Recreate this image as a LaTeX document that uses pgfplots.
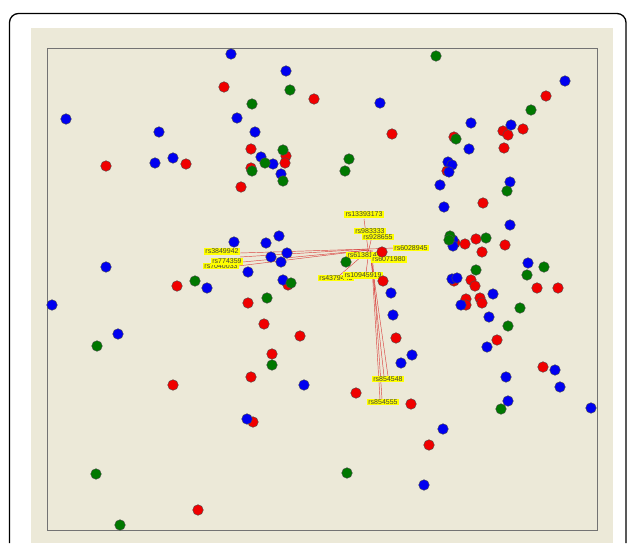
\documentclass[border=0pt]{standalone}
\usepackage{pgfplots}
\pgfplotsset{compat=1.18}
\usepackage{fontspec}
\newfontfamily\labfont{Liberation Sans}
\definecolor{panel}{RGB}{236,233,216}
\definecolor{ptgreen}{RGB}{0,120,0}
\definecolor{ptblue}{RGB}{0,0,240}
\definecolor{ptred}{RGB}{240,0,0}
\definecolor{lnk}{RGB}{215,40,40}
\definecolor{tag}{RGB}{255,255,0}
\tikzset{
  tg/.style={fill=tag, inner xsep=1.2pt, inner ysep=0.9pt,
    font=\labfont\fontsize{7}{7}\selectfont, text=black!75},
  lk/.style={lnk, line width=0.45pt, opacity=0.85}}
\begin{document}
\begin{tikzpicture}
\begin{axis}[scale only axis, width=627pt, height=543pt,
  xmin=0, xmax=627, ymin=0, ymax=543, y dir=reverse,
  hide axis, clip=false,
  pts/.style={only marks, mark=*, mark size=5.3pt,
    mark options={fill=#1, draw=black!70, line width=0.4pt}}]
% background, panel and frames
\fill[white] (axis cs:0,0) rectangle (axis cs:627,543);
\fill[panel] (axis cs:31,28) rectangle (axis cs:613,543);
\draw[black, line width=1.3pt, rounded corners=9pt]
  (axis cs:9.5,543) -- (axis cs:9.5,13.5) -- (axis cs:626,13.5) -- (axis cs:626,543);
\draw[black!55, line width=1pt] (axis cs:47,48.5) rectangle (axis cs:597,530.5);

% points
\addplot[pts=ptred] coordinates {
 (224,87) (186,164) (106,166) (314,99) (392,134) (251,149) (286,156) (285,163)
 (251,168) (241,187) (546,96) (503,131) (508,135) (523,129) (454,137) (504,148)
 (447,171) (483,203) (455,243) (465,244) (476,239) (482,252) (505,245) (454,281)
 (471,280) (475,286) (537,288) (558,288) (466,299) (466,305) (480,298) (482,303)
 (497,340) (543,367) (177,286) (251,377) (173,385) (356,393) (411,404) (253,422)
 (429,445) (198,510) (382,252) (383,281) (288,285) (248,303) (264,324) (300,336)
 (272,354) (396,338)
};
\addplot[pts=ptblue] coordinates {
 (231,54) (66,119) (237,118) (159,132) (155,163) (173,158) (286,71) (380,103)
 (255,132) (261,157) (273,164) (281,174) (565,81) (471,123) (511,125) (469,149)
 (448,162) (452,165) (449,172) (440,185) (510,182) (444,207) (510,225) (453,240)
 (453,246) (528,263) (452,279) (457,278) (493,294) (461,305) (489,317) (487,347)
 (555,370) (234,242) (106,267) (52,305) (207,288) (118,334) (401,363) (304,385)
 (247,419) (443,429) (424,485) (506,377) (560,387) (508,401) (591,408) (266,243)
 (279,236) (271,257) (287,253) (281,262) (248,272) (283,280) (391,293) (393,315)
 (412,355)
};
\addplot[pts=ptgreen] coordinates {
 (436,56) (290,90) (252,104) (283,150) (265,163) (252,171) (283,181) (349,159)
 (345,171) (531,110) (456,139) (507,191) (450,236) (449,240) (486,238) (544,267)
 (476,270) (527,275) (520,308) (508,326) (195,281) (97,346) (272,365) (96,474)
 (347,473) (120,525) (346,262) (291,283) (267,298) (501,409)
};

% links from the hub to the labels
\addplot[lk] coordinates {(364,219) (368,249)};
\addplot[lk] coordinates {(369,249) (240,253)};
\addplot[lk] coordinates {(369,249) (240,257)};
\addplot[lk] coordinates {(369,250) (243,262)};
\addplot[lk] coordinates {(369,250) (238,266)};
\addplot[lk] coordinates {(369,249) (394,248)};
\addplot[lk] coordinates {(369,249) (372,236)};
\addplot[lk] coordinates {(369,250) (340,275)};
\addplot[lk] coordinates {(369,250) (366,273)};
\addplot[lk] coordinates {(370,250) (388,376)};
\addplot[lk] coordinates {(370,250) (384,376)};
\addplot[lk] coordinates {(371,250) (380,399)};
\addplot[lk] coordinates {(372,250) (382,399)};

% labels
\node[tg] at (axis cs:364,214.5) {rs13393173};
\node[tg] at (axis cs:370,231) {rs983333};
\node[tg] at (axis cs:378,237) {rs928655};
\node[tg] at (axis cs:411,248) {rs6028945};
\node[tg] at (axis cs:221,266) {rs7040033};
\node[tg] at (axis cs:222,251.5) {rs3849942};
\node[tg] at (axis cs:227,261.5) {rs774359};
\node[tg] at (axis cs:366,255.5) {rs61381450};
\node[tg] at (axis cs:389,259.5) {rs6071980};
\node[tg] at (axis cs:336,278) {rs4379443};
\node[tg] at (axis cs:363,275.5) {rs10945919};
\node[tg] at (axis cs:388,379) {rs854548};
\node[tg] at (axis cs:383,402) {rs854555};
\end{axis}
\end{tikzpicture}
\end{document}
